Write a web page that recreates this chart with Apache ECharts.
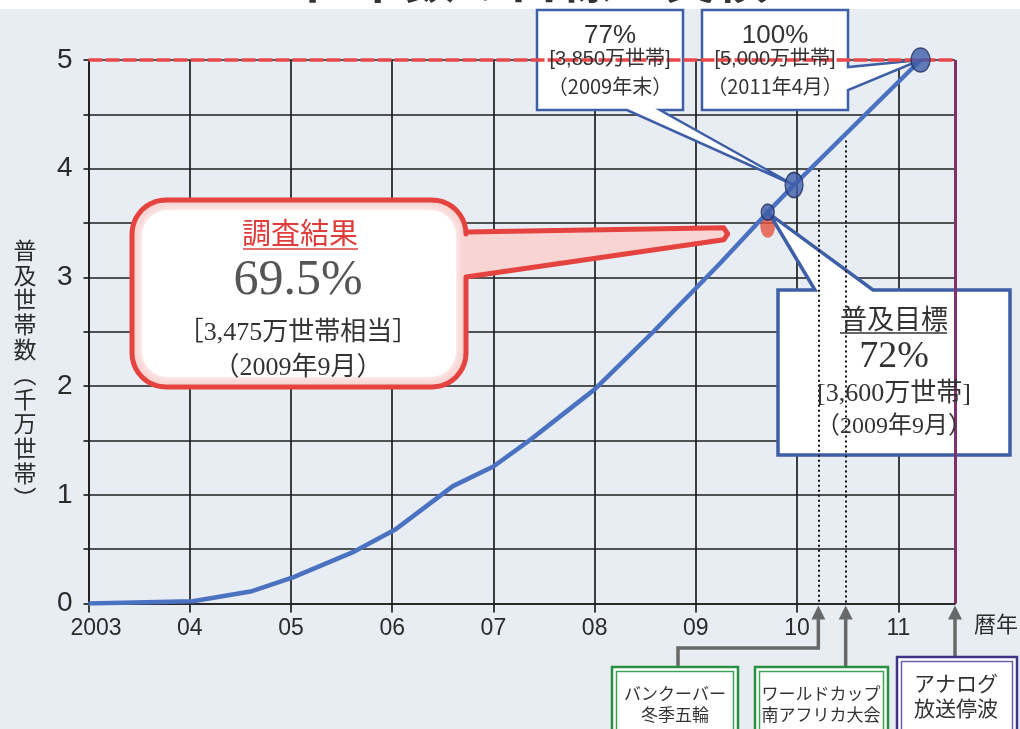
<!DOCTYPE html>
<html>
<head>
<meta charset="utf-8">
<script src="https://cdn.jsdelivr.net/npm/echarts@6/dist/echarts.min.js"></script>
<style>
  html, body { margin: 0; padding: 0; background: #e7edf3; }
  #chart { width: 1020px; height: 729px; }
</style>
</head>
<body>
<div id="chart"></div>
<script>
// 普及世帯数（千万世帯）の推移：実績と目標
const curveYears  = [2003.0, 2004.03, 2004.6, 2005.02, 2005.63, 2006.03, 2006.6, 2007.0, 2007.37, 2008.0, 2008.58, 2009.0, 2009.24, 2009.71, 2009.97, 2011.22];
const curveValues = [0,      0.02,    0.11,   0.24,    0.48,    0.68,    1.08,   1.26,   1.51,    1.97,   2.50,    2.90,   3.13,    3.60,    3.85,    5.00];

// 目標（2009年9月 72%、2009年末 77%、2011年4月 100%）
const targetYears  = [2009.71, 2009.97, 2011.22];
const targetValues = [3.60, 3.85, 5.00];

// 調査結果（2009年9月 69.5%）
const surveyYears  = [2009.71];
const surveyValues = [3.475];

// 主な出来事
const eventYears = [2010.21, 2010.48, 2011.56];
const eventLineTops = [3.99, 4.26];
const eventNames = [['バンクーバー', '冬季五輪'], ['ワールドカップ', '南アフリカ大会'], ['アナログ', '放送停波']];

const xTickLabels = ['2003', '04', '05', '06', '07', '08', '09', '10', '11'];
const yTickLabels = ['0', '1', '2', '3', '4', '5'];
const xStart = 2003;
const xEnd = 2011.56;
const goalValue = 5;

const titleText = '世帯数の目標と実績';
const surveyText = ['調査結果', '69.5%', '［3,475万世帯相当］', '（2009年9月）'];
const targetTexts = [
  ['普及目標', '72%', '[3,600万世帯]', '（2009年9月）'],
  ['77%', '[3,850万世帯]', '（2009年末）'],
  ['100%', '[5,000万世帯]', '（2011年4月）']
];

const SANS = '"Liberation Sans", Arial, "Noto Sans CJK JP", sans-serif';
const SERIF = '"Liberation Serif", "DejaVu Serif", "Noto Sans CJK JP", serif';
const JP = '"Noto Sans CJK JP", "Noto Sans", sans-serif';
const GRID = '#1e1e1e';

const chart = echarts.init(document.getElementById('chart'), null, { renderer: 'canvas' });

const option = {
  animation: false,
  backgroundColor: '#e7edf3',
  grid: { left: 88.5, right: 65, top: 60, bottom: 125.5, containLabel: false },
  xAxis: {
    type: 'value', min: xStart, max: xEnd, interval: 1,
    axisLine: { show: true, lineStyle: { color: GRID, width: 1.7 } },
    axisTick: { show: true, length: 9, lineStyle: { color: GRID, width: 1.7 } },
    splitLine: { show: true, lineStyle: { color: GRID, width: 1.7 } },
    axisLabel: {
      margin: 14, fontSize: 23, fontFamily: SANS, color: '#2b2b2b', showMaxLabel: false,
      formatter: v => {
        const i = Math.round(v - xStart);
        if (Math.abs(v - xStart - i) > 1e-6) return '';
        return i === 0 ? '{first|' + xTickLabels[i] + '}' : (xTickLabels[i] || '');
      },
      rich: { first: { fontSize: 23, fontFamily: SANS, color: '#2b2b2b', padding: [0, 0, 0, 15] } }
    }
  },
  yAxis: {
    type: 'value', min: 0, max: 5, interval: 0.5,
    axisLine: { show: true, lineStyle: { color: GRID, width: 1.7 } },
    axisTick: { show: true, length: 5, lineStyle: { color: GRID, width: 1.7 } },
    splitLine: { show: true, lineStyle: { color: GRID, width: 1.7 } },
    axisLabel: {
      margin: 16, fontSize: 28, fontFamily: SANS, color: '#2b2b2b',
      formatter: v => Number.isInteger(v) ? yTickLabels[v] : ''
    }
  },
  series: [
    {
      name: '調査結果', type: 'scatter', z: 1,
      data: surveyYears.map((x, i) => [x, surveyValues[i]]),
      symbol: 'circle', symbolSize: [15, 24],
      itemStyle: { color: '#e5533f' }
    },
    {
      name: '普及世帯数', type: 'line', z: 2,
      data: curveYears.map((x, i) => [x, curveValues[i]]),
      showSymbol: false,
      lineStyle: { color: '#4a72c1', width: 4.5 },
      markLine: {
        silent: true, symbol: ['none', 'none'], label: { show: false },
        data: [
          [{ coord: [eventYears[0], eventLineTops[0]], lineStyle: { color: '#111', width: 2, type: [2, 3] } }, { coord: [eventYears[0], 0] }],
          [{ coord: [eventYears[1], eventLineTops[1]], lineStyle: { color: '#111', width: 2, type: [2, 3] } }, { coord: [eventYears[1], 0] }],
          [{ coord: [xStart, goalValue], lineStyle: { color: '#e8474b', width: 3.5, type: [14, 3] } }, { coord: [xEnd, goalValue] }],
          [{ coord: [xEnd, 0], lineStyle: { color: '#82306c', width: 3, type: 'solid' } }, { coord: [xEnd, goalValue] }]
        ]
      }
    },
    {
      name: '目標', type: 'scatter', z: 5,
      data: targetYears.map((x, i) => ({ value: [x, targetValues[i]], symbolSize: [[13, 16], [18, 25], [19, 24]][i] })),
      symbol: 'circle',
      itemStyle: { color: '#3f5ea8', borderColor: '#22305e', borderWidth: 1.5 }
    }
  ]
};
chart.setOption(option);

// ---- 注記（吹き出し・出来事） ----
const px = (x, y) => chart.convertToPixel({ gridIndex: 0 }, [x, y]);

// 角丸矩形＋しっぽの輪郭
function calloutPoints(x, y, w, h, r, tail) {
  const pts = [];
  const add = p => pts.push(p);
  const arc = (cx, cy, a0, a1) => {
    if (r <= 0) { add([cx, cy]); return; }
    for (let i = 0; i <= 10; i++) {
      const a = a0 + (a1 - a0) * i / 10;
      add([cx + r * Math.cos(a), cy + r * Math.sin(a)]);
    }
  };
  arc(x + r, y + r, Math.PI, 1.5 * Math.PI);
  if (tail.side === 'top') { add([tail.a, y]); tail.tip.forEach(add); add([tail.b, y]); }
  arc(x + w - r, y + r, 1.5 * Math.PI, 2 * Math.PI);
  if (tail.side === 'right') { add([x + w, tail.a]); tail.tip.forEach(add); add([x + w, tail.b]); }
  arc(x + w - r, y + h - r, 0, 0.5 * Math.PI);
  if (tail.side === 'bottom') { add([tail.b, y + h]); tail.tip.forEach(add); add([tail.a, y + h]); }
  arc(x + r, y + h - r, 0.5 * Math.PI, Math.PI);
  return pts;
}

function txt(text, x, y, size, family, color, weight) {
  return {
    type: 'text', z: 20, silent: true,
    style: {
      text, x, y, fontSize: size, fontFamily: family, fill: color, fontWeight: weight || 'normal',
      align: 'center', verticalAlign: 'middle', textAlign: 'center', textVerticalAlign: 'middle'
    }
  };
}
function line(x1, y1, x2, y2, color, width) {
  return { type: 'line', z: 20, silent: true, shape: { x1, y1, x2, y2 }, style: { stroke: color, lineWidth: width } };
}

const g = [];

// タイトル（上端）
g.push({ type: 'rect', z: 0, silent: true, shape: { x: 0, y: 0, width: 1020, height: 9 }, style: { fill: '#ffffff' } });
g.push(txt(titleText, 534, -22, 52, JP, '#333333', 'bold'));

// 軸名
g.push({ type: 'text', z: 20, silent: true, style: { text: '普\n及\n世\n帯\n数\n︵\n千\n万\n世\n帯\n︶', x: 25, y: 374, fontSize: 23, lineHeight: 24.8, fontFamily: JP, fill: '#2b2b2b', align: 'center', verticalAlign: 'middle', textAlign: 'center', textVerticalAlign: 'middle' } });
g.push({ type: 'text', z: 20, silent: true, style: { text: '暦年', x: 974, y: 624, fontSize: 22, fontFamily: JP, fill: '#2b2b2b', align: 'left', verticalAlign: 'middle', textAlign: 'left', textVerticalAlign: 'middle' } });

// 調査結果の吹き出し（赤・角丸）
const sv = px(surveyYears[0], surveyValues[0]);
const redTail = { side: 'right', a: 232, b: 277, tip: [[sv[0] - 44, sv[1] + 2], [sv[0] - 40, sv[1] + 8], [sv[0] - 44, sv[1] + 14]] };
const redPts = calloutPoints(132, 200, 334, 187, 34, redTail);
g.push({ type: 'polygon', z: 3, silent: true, shape: { points: redPts }, style: { fill: '#f8d4d2', stroke: 'none' } });
g.push({ type: 'rect', z: 3, silent: true, shape: { x: 142, y: 210, width: 314, height: 167, r: 26 }, style: { fill: '#ffffff', shadowBlur: 10, shadowColor: '#ffffff' } });
g.push({ type: 'polygon', z: 3, silent: true, shape: { points: redPts }, style: { fill: 'none', stroke: '#e5433f', lineWidth: 5, lineJoin: 'round' } });
g.push(txt(surveyText[0], 300, 233, 29, JP, '#e03c3c'));
g.push(line(243, 249, 358, 249, '#e03c3c', 1.5));
g.push(txt(surveyText[1], 298, 281, 50, SERIF, '#555555'));
g.push(txt(surveyText[2], 298, 333, 26, SERIF, '#333333'));
g.push(txt(surveyText[3], 298, 368, 26, SERIF, '#333333'));

// 目標の吹き出し（青・矩形）
const BLUE = '#3e5ea6';
const t0 = px(targetYears[0], targetValues[0]);
const t1 = px(targetYears[1], targetValues[1]);
const t2 = px(targetYears[2], targetValues[2]);

g.push({ type: 'polygon', z: 3, silent: true,
  shape: { points: calloutPoints(778, 290, 232, 165, 0, { side: 'top', a: 815, b: 873, tip: [[t0[0] + 2, t0[1] + 2]] }) },
  style: { fill: '#ffffff', stroke: BLUE, lineWidth: 3.5, lineJoin: 'miter' } });
g.push(txt(targetTexts[0][0], 894, 319, 27, JP, '#333333'));
g.push(line(840, 333, 947, 333, '#333333', 1.3));
g.push(txt(targetTexts[0][1], 894, 357, 38, SERIF, '#333333'));
g.push(txt(targetTexts[0][2], 894, 394, 26, SERIF, '#333333'));
g.push(txt(targetTexts[0][3], 894, 427, 24, SERIF, '#333333'));

g.push({ type: 'polygon', z: 3, silent: true,
  shape: { points: calloutPoints(537, 10, 146, 100, 0, { side: 'bottom', a: 627, b: 660, tip: [[t1[0], t1[1]]] }) },
  style: { fill: '#ffffff', stroke: BLUE, lineWidth: 2.5, lineJoin: 'miter' } });
g.push(txt(targetTexts[1][0], 610, 36, 26, SANS, '#333333'));
g.push(txt(targetTexts[1][1], 610, 59, 20, SANS, '#333333'));
g.push(txt(targetTexts[1][2], 610, 86, 20, JP, '#333333'));

g.push({ type: 'polygon', z: 3, silent: true,
  shape: { points: calloutPoints(702, 10, 146, 100, 0, { side: 'right', a: 67, b: 90, tip: [[t2[0], t2[1]]] }) },
  style: { fill: '#ffffff', stroke: BLUE, lineWidth: 2.5, lineJoin: 'miter' } });
g.push(txt(targetTexts[2][0], 775, 36, 26, SANS, '#333333'));
g.push(txt(targetTexts[2][1], 775, 59, 20, SANS, '#333333'));
g.push(txt(targetTexts[2][2], 775, 86, 20, JP, '#333333'));

// 出来事の矢印と枠
const ARROW = '#686868';
const axisY = px(xStart, 0)[1];
function arrowHead(x) {
  return { type: 'polygon', z: 20, silent: true,
    shape: { points: [[x, axisY + 2], [x - 7, axisY + 16], [x + 7, axisY + 16]] },
    style: { fill: ARROW } };
}
function doubleBox(x, y, w, h, outer, inner) {
  return [
    { type: 'rect', z: 20, silent: true, shape: { x, y, width: w, height: h }, style: { fill: '#ffffff', stroke: outer, lineWidth: 2.5 } },
    { type: 'rect', z: 20, silent: true, shape: { x: x + 4.5, y: y + 4.5, width: w - 9, height: h - 9 }, style: { fill: 'none', stroke: inner, lineWidth: 1.5 } }
  ];
}
const e0 = px(eventYears[0], 0)[0];
const e1 = px(eventYears[1], 0)[0];
const e2 = px(eventYears[2], 0)[0];

g.push({ type: 'polyline', z: 20, silent: true, shape: { points: [[678, 667], [678, 648], [e0, 648], [e0, axisY + 14]] }, style: { stroke: ARROW, lineWidth: 3.5, fill: 'none' } });
g.push(arrowHead(e0));
g.push(...doubleBox(612, 667, 126, 70, '#2b8f42', '#3aa356'));
g.push(txt(eventNames[0][0], 675, 694, 17, JP, '#333333'));
g.push(txt(eventNames[0][1], 675, 715, 17, JP, '#333333'));

g.push(line(e1, 667, e1, axisY + 14, ARROW, 3.5));
g.push(arrowHead(e1));
g.push(...doubleBox(755, 667, 133, 70, '#2b8f42', '#3aa356'));
g.push(txt(eventNames[1][0], 821, 694, 17, JP, '#333333'));
g.push(txt(eventNames[1][1], 821, 715, 17, JP, '#333333'));

g.push(line(e2, 657, e2, axisY + 14, ARROW, 3.5));
g.push(arrowHead(e2));
g.push(...doubleBox(897, 657, 120, 80, '#3d3486', '#6c5fa8'));
g.push(txt(eventNames[2][0], 956, 683, 21, JP, '#333333'));
g.push(txt(eventNames[2][1], 956, 708, 21, JP, '#333333'));

chart.setOption({ graphic: { elements: g } });
</script>
</body>
</html>
